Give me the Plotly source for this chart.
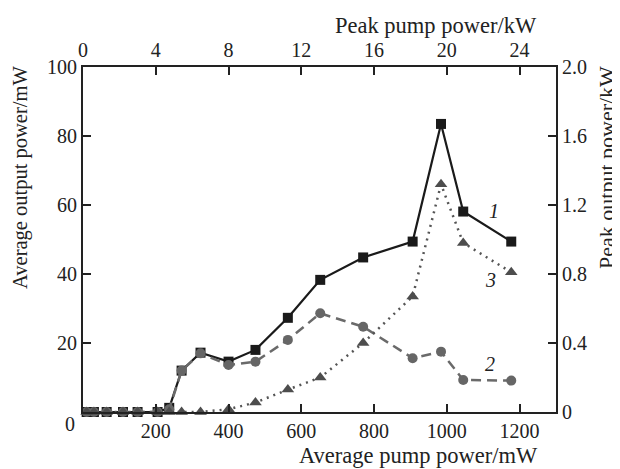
import plotly.graph_objects as go

# Average pump power (mW)
pump_mw = [10, 30, 65, 110, 150, 205, 237, 271, 323, 400, 474, 563, 652, 770, 906, 984, 1045, 1177]
# Curve 1: average output power (mW)
avg_out_1 = [0, 0, 0, 0, 0, 0, 1.2, 12.0, 17.2, 14.6, 18.0, 27.3, 38.3, 44.8, 49.4, 83.5, 58.1, 49.4]
# Curve 2: average output power (mW)
avg_out_2 = [0, 0, 0, 0, 0, 0, 0.8, 12.0, 17.0, 13.6, 14.6, 20.9, 28.6, 24.7, 15.6, 17.5, 9.3, 9.1]
# Curve 3: peak output power (kW)
peak_out_3 = [0, 0, 0, 0, 0, 0, 0, 0, 0, 0.016, 0.055, 0.13, 0.20, 0.40, 0.67, 1.32, 0.98, 0.81]

x_ticks = [0, 200, 400, 600, 800, 1000, 1200]
x_ticktext = ["", "200", "400", "600", "800", "1000", "1200"]
top_ticks = [0, 4, 8, 12, 16, 20, 24]
y_ticks = [0, 20, 40, 60, 80, 100]
y_ticktext = ["", "20", "40", "60", "80", "100"]
y2_ticks = [0, 0.4, 0.8, 1.2, 1.6, 2.0]
y2_ticktext = ["0", "0.4", "0.8", "1.2", "1.6", "2.0"]

FONT = "Liberation Serif"
AX = "#222222"

# plot area in page pixels (page has an 8px body margin)
PL, PR, PT, PB = 83, 556, 67, 412
OFF = 8
W, H = 612, 461

fig = go.Figure()
fig.add_trace(go.Scatter(x=pump_mw, y=avg_out_1, mode="lines+markers",
                         line=dict(color="#1a1a1a", width=2.2),
                         marker=dict(symbol="square", size=10, color="#1a1a1a"),
                         cliponaxis=False, xaxis="x", yaxis="y"))
fig.add_trace(go.Scatter(x=pump_mw, y=avg_out_2, mode="lines+markers",
                         line=dict(color="#6a6a6a", width=2.5, dash="10px,6px"),
                         marker=dict(symbol="circle", size=10, color="#666666"),
                         cliponaxis=False, xaxis="x", yaxis="y"))
fig.add_trace(go.Scatter(x=pump_mw, y=peak_out_3, mode="lines+markers",
                         line=dict(color="#555555", width=2.5, dash="2px,5px"),
                         marker=dict(symbol="triangle-up", size=11, color="#4d4d4d"),
                         cliponaxis=False, xaxis="x", yaxis="y2"))
# invisible trace to activate top axis
fig.add_trace(go.Scatter(x=[0, 26], y=[0, 0], mode="markers", marker=dict(opacity=0),
                         xaxis="x2", yaxis="y", hoverinfo="skip"))

axis_common = dict(showline=True, linecolor=AX, linewidth=2, ticks="inside", ticklen=8,
                   tickwidth=1.5, tickcolor=AX, showgrid=False, zeroline=False,
                   automargin=False,
                   tickfont=dict(family=FONT, size=20, color="#222"))

fig.update_layout(
    width=W, height=H, showlegend=False,
    margin=dict(l=PL - OFF, r=W - (PR - OFF), t=PT - OFF, b=H - (PB - OFF), pad=0),
    plot_bgcolor="white", paper_bgcolor="white",
    xaxis=dict(range=[0, 1300], tickvals=x_ticks, ticktext=x_ticktext, **axis_common),
    xaxis2=dict(range=[0, 26], tickvals=top_ticks, overlaying="x", side="top", anchor="y",
                **axis_common),
    yaxis=dict(range=[0, 100], tickvals=y_ticks, ticktext=y_ticktext, **axis_common),
    yaxis2=dict(range=[0, 2.0], tickvals=y2_ticks, ticktext=y2_ticktext, overlaying="y",
                side="right", anchor="x", **axis_common),
)

annotations = [
    dict(text="0", x=70, y=424, size=20),
    dict(text="Peak pump power/kW", x=436, y=25, size=22.5),
    dict(text="Average pump power/mW", x=418, y=455, size=22.5),
    dict(text="Average output power/mW", x=20, y=178, size=20.5, textangle=-90),
    dict(text="Peak output power/kW", x=606, y=168, size=22, textangle=-90),
    dict(text="<i>1</i>", x=494, y=211, size=20),
    dict(text="<i>3</i>", x=490, y=280, size=20),
    dict(text="<i>2</i>", x=490, y=364, size=20),
]
for a in annotations:
    fig.add_annotation(text=a["text"],
                       x=(a["x"] - PL) / (PR - PL), y=(PB - a["y"]) / (PB - PT),
                       xref="paper", yref="paper", showarrow=False,
                       textangle=a.get("textangle", 0),
                       font=dict(family=FONT, size=a["size"], color="#222"),
                       xanchor="center", yanchor="middle")

fig.write_html("out.html")
